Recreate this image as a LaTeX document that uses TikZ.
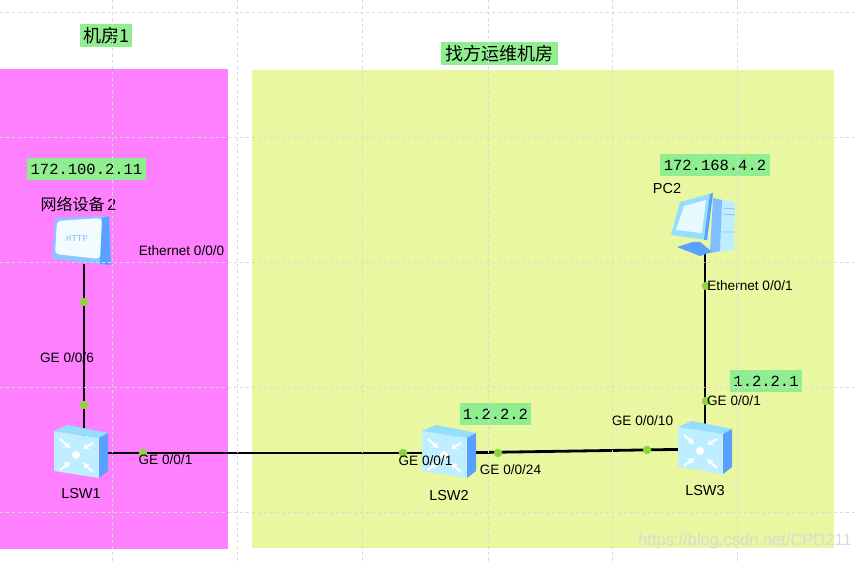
\documentclass[tikz,border=0pt]{standalone}
\usepackage{fontspec}
\setmainfont{Liberation Sans}
\newfontfamily\cjk{Noto Sans CJK SC}
\newfontfamily\ipfont{Liberation Mono}
\usepackage{tikz}
\usetikzlibrary{arrows.meta, calc}
\usepackage{xcolor}
\definecolor{RoomPink}{RGB}{255,128,255}
\definecolor{RoomYellow}{RGB}{232,247,160}
\definecolor{TagGreen}{RGB}{144,238,144}
\definecolor{PortGreen}{RGB}{140,214,60}
\definecolor{IconLight}{RGB}{190,238,255}
\definecolor{IconTop}{RGB}{150,222,255}
\definecolor{IconSide}{RGB}{90,160,255}
\definecolor{IconMid}{RGB}{130,190,255}
\tikzset{
  devbox/.style={inner sep=0pt, minimum width=54pt, minimum height=46pt},
  portdot/.style={circle, fill=PortGreen, inner sep=0pt, minimum size=8.5pt},
  portlabel/.style={inner sep=0pt, font=\fontsize{13.6}{15}\selectfont},
  devlabel/.style={inner sep=0pt, font=\fontsize{14.5}{16}\selectfont},
  iptag/.style={fill=TagGreen, inner sep=0pt, minimum height=22pt, font=\ipfont\fontsize{15.5}{17}\selectfont},
  roomtag/.style={fill=TagGreen, inner sep=0pt, minimum height=23pt, font=\cjk\fontsize{18}{20}\selectfont},
  link/.style={line width=2.8pt, black},
  swarrow/.style={-{Stealth[length=6pt,width=7pt]}, white, line width=2pt}
}
\newcommand{\SwitchIcon}[1]{
  \begin{scope}[shift={(#1.center)}]
    \fill[IconLight] (-27,-22) -- (18,-15) -- (18,25) -- (-27,18) -- cycle;
    \fill[IconTop] (-27,-22) -- (-13,-28) -- (27,-20) -- (18,-15) -- cycle;
    \fill[IconSide] (18,-15) -- (27,-20) -- (27,18) -- (18,25) -- cycle;
    \fill[white] (-5,2) circle (4);
    \draw[swarrow] (-21,-14) -- (-11,-5);
    \draw[swarrow] (12,-10) -- (2,-4);
    \draw[swarrow] (-21,17) -- (-11,9);
    \draw[swarrow] (12,19) -- (2,10);
  \end{scope}
}
\newcommand{\ServerIcon}[1]{
  \begin{scope}[shift={(#1.center)}]
    \fill[IconMid!70!IconTop, rounded corners=2pt] (-29,-23) -- (25,-25) -- (27,24) -- (-32,18) -- cycle;
    \fill[IconSide] (18,-23) -- (25,-25) -- (27,24) -- (16,23) -- cycle;
    \fill[white!80!IconLight, rounded corners=4pt] (-27,-20) -- (18,-23) -- (16,18) -- (-29,13) -- cycle;
    \node[inner sep=0pt, text=IconMid, font=\ipfont\fontsize{9}{10}\selectfont] at (-7,-2) {HTTP};
  \end{scope}
}
\newcommand{\PcIcon}[1]{
  \begin{scope}[shift={(#1.center)}]
    \fill[IconLight] (8,-27) -- (30,-23) -- (29,25) -- (5,28) -- cycle;
    \fill[IconMid] (8,-27) -- (17,-25) -- (15,26) -- (5,28) -- cycle;
    \draw[IconMid, line width=0.8pt] (18,-17) -- (30,-16) (18,-11) -- (30,-10) (18,7) -- (29,7);
    \fill[IconSide] (-28,22) -- (-12,17) -- (-5,17) -- (7,27) -- (-5,31) -- cycle;
    \fill[IconTop] (-25,-23) -- (8,-32) -- (2,15) -- (-34,10) -- cycle;
    \fill[IconSide] (5,-31) -- (8,-32) -- (2,15) -- (-1,15) -- cycle;
    \fill[white!65!IconLight] (-21,-19) -- (1,-25) -- (-3,8) -- (-29,5) -- cycle;
  \end{scope}
}
\begin{document}
\begin{tikzpicture}[x=1pt, y=-1pt]
  \useasboundingbox (0,0) rectangle (855,561);
  % rooms
  \fill[RoomPink] (0,69) rectangle (228,549);
  \fill[RoomYellow] (252,70) rectangle (834,548);
  \node[roomtag, minimum width=52pt] (room1) at (106,36) {机房1};
  \node[roomtag, minimum width=117pt] (room2) at (499.5,54) {找方运维机房};
  % devices
  \node[devbox] (http) at (84,241) {};
  \node[devbox] (pc2) at (705,225) {};
  \node[devbox] (lsw1) at (81,453) {};
  \node[devbox] (lsw2) at (449,453) {};
  \node[devbox] (lsw3) at (705,449) {};
  % links
  \draw[link] (http) -- (http |- lsw1);
  \draw[link] (lsw1) -- (lsw2);
  \draw[link] (lsw2) -- (lsw3);
  \draw[link] (pc2) -- (lsw3);
  \SwitchIcon{lsw1}
  \SwitchIcon{lsw2}
  \SwitchIcon{lsw3}
  \ServerIcon{http}
  \PcIcon{pc2}
  % port dots
  \node[portdot] (p1) at (84,302) {};
  \node[portdot] (p2) at (84,405) {};
  \node[portdot] (p3) at (143,453) {};
  \node[portdot] (p4) at (403,453) {};
  \node[portdot] (p5) at (498,453) {};
  \node[portdot] (p6) at (647,450) {};
  \node[portdot] (p7) at (706,401) {};
  \node[portdot] (p8) at (706,286) {};
  % ip tags
  \node[iptag, minimum width=119pt] (ip1) at (86.5,169) {172.100.2.11};
  \node[iptag, minimum width=110pt] (ip2) at (715,165) {172.168.4.2};
  \node[iptag, minimum width=71pt] (ip3) at (495.5,414) {1.2.2.2};
  \node[iptag, minimum width=72pt] (ip4) at (766,381) {1.2.2.1};
  % device names
  \node[inner sep=0pt, font=\cjk\fontsize{16}{18}\selectfont] (name1) at (78.5,204) {网络设备\,{\rmfamily 2}};
  \node[devlabel] (name2) at (667,189) {PC2};
  \node[devlabel] (name3) at (81,494) {LSW1};
  \node[devlabel] (name4) at (449,496) {LSW2};
  \node[devlabel] (name5) at (705,491) {LSW3};
  % port names
  \node[portlabel] (l1) at (181.5,251) {Ethernet 0/0/0};
  \node[portlabel] (l2) at (67,358) {GE 0/0/6};
  \node[portlabel] (l3) at (165.5,460) {GE 0/0/1};
  \node[portlabel] (l4) at (425.5,461) {GE 0/0/1};
  \node[portlabel] (l5) at (510.5,470) {GE 0/0/24};
  \node[portlabel] (l6) at (642.5,421) {GE 0/0/10};
  \node[portlabel] (l7) at (734,401) {GE 0/0/1};
  \node[portlabel] (l8) at (750,286) {Ethernet 0/0/1};
  % grid
  \foreach \gx in {112,237,362,488,612,737}
    \draw[gray!30, dashed, line width=0.7pt] (\gx,0) -- (\gx,561);
  \foreach \gy in {12,137,262,387,512}
    \draw[gray!30, dashed, line width=0.7pt] (0,\gy) -- (855,\gy);
  \node[inner sep=0pt, text=white!70!gray, font=\fontsize{16.5}{18}\selectfont] (mark) at (745,541) {https://blog.csdn.net/CPD211};
\end{tikzpicture}
\end{document}
